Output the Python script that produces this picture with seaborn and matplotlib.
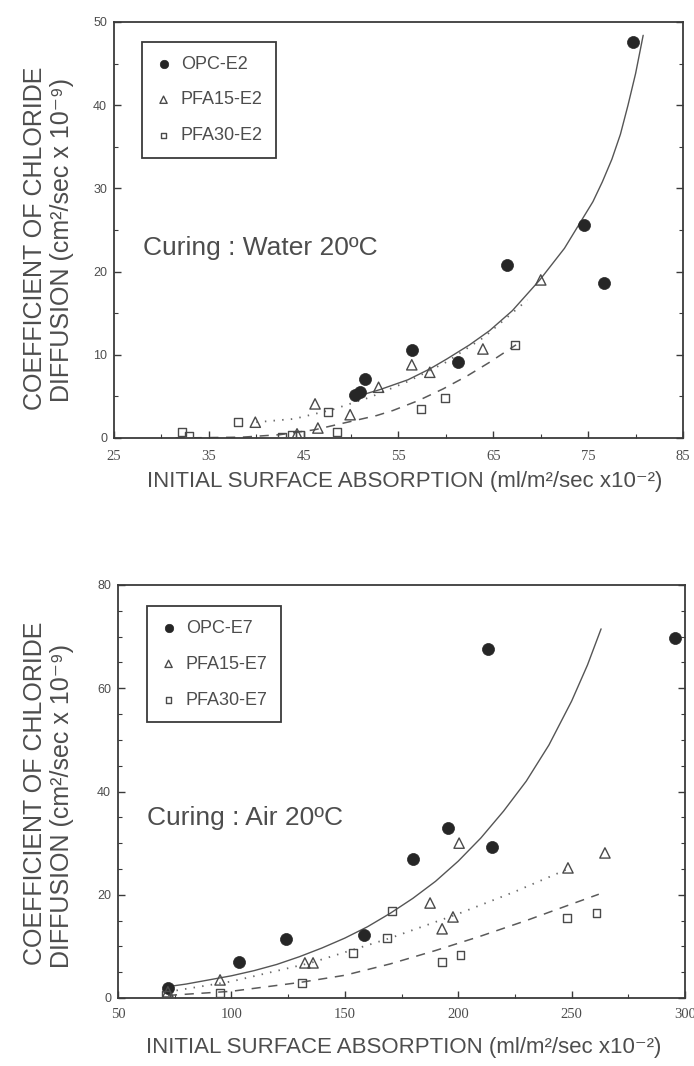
import numpy as np
import pandas as pd
import matplotlib
matplotlib.use("Agg")
import matplotlib.pyplot as plt
import seaborn as sns
from matplotlib.ticker import MultipleLocator

# ---------------- Data: top panel (Curing : Water 20ºC) ----------------
water_opc_x = [79.7, 74.6, 66.4, 76.7, 56.4, 61.3, 51.5, 50.9, 50.4]
water_opc_y = [47.6, 25.6, 20.8, 18.6, 10.6, 9.1, 7.1, 5.5, 5.2]
water_pfa15_x = [70.0, 63.9, 56.4, 58.3, 52.9, 46.2, 39.9, 49.9, 46.5, 44.3]
water_pfa15_y = [19.0, 10.7, 8.8, 7.9, 6.1, 4.1, 1.9, 2.8, 1.2, 0.5]
water_pfa30_x = [67.3, 59.9, 57.4, 47.6, 38.1, 48.5, 32.2, 32.9, 42.7, 43.8, 44.6]
water_pfa30_y = [11.2, 4.8, 3.5, 3.1, 1.9, 0.7, 0.7, 0.2, 0.1, 0.4, 0.4]

# fitted curves
water_opc_fit_x = [50.3, 53.0, 56.0, 58.3, 60.1, 62.5, 64.6, 67.0, 69.9, 72.5, 75.5,
                   76.5, 77.5, 78.4, 79.2, 80.0, 80.8]
water_opc_fit_y = [4.9, 5.8, 7.0, 8.3, 9.5, 11.2, 12.9, 15.3, 19.0, 22.8, 28.4,
                   30.8, 33.5, 36.5, 40.0, 43.8, 48.4]
water_pfa15_fit_x = [40.0, 44.0, 48.0, 52.0, 56.0, 60.0, 64.0, 68.6]
water_pfa15_fit_y = [1.9, 2.3, 3.4, 4.9, 6.8, 9.1, 12.1, 16.6]
water_pfa30_fit_x = [31.5, 38.5, 42.5, 46.2, 48.1, 50.2, 52.7, 54.4, 57.1, 59.7, 62.3, 64.6, 67.4]
water_pfa30_fit_y = [0.0, 0.1, 0.4, 1.0, 1.5, 2.05, 2.7, 3.3, 4.5, 5.9, 7.5, 9.1, 11.2]

# ---------------- Data: bottom panel (Curing : Air 20ºC) ----------------
air_opc_x = [72.0, 103.5, 124.0, 158.5, 180.0, 195.5, 213.0, 215.0, 295.6]
air_opc_y = [1.9, 7.0, 11.5, 12.3, 26.9, 32.9, 67.6, 29.3, 69.7]
air_pfa15_x = [72.0, 95.0, 132.4, 136.0, 187.6, 192.9, 197.7, 200.4, 248.4, 264.7]
air_pfa15_y = [1.2, 3.5, 6.8, 6.8, 18.4, 13.4, 15.7, 30.0, 25.2, 28.1]
air_pfa30_x = [71.0, 95.0, 131.0, 153.6, 168.5, 170.8, 193.0, 201.0, 248.0, 261.0]
air_pfa30_y = [0.6, 1.0, 2.9, 8.7, 11.6, 16.9, 7.0, 8.3, 15.5, 16.5]

air_opc_fit_x = [72, 80, 90, 100, 110, 120, 130, 140, 150, 160, 170, 180, 190,
                 200, 210, 220, 230, 240, 250, 257, 263]
air_opc_fit_y = [2.2, 2.7, 3.5, 4.3, 5.3, 6.5, 8.0, 9.7, 11.6, 13.8, 16.4, 19.3, 22.6,
                 26.5, 31.0, 36.2, 42.0, 49.0, 57.5, 64.5, 71.5]
air_pfa15_fit_x = [72, 100, 135, 170, 200, 225, 250]
air_pfa15_fit_y = [1.2, 3.2, 6.8, 11.6, 16.3, 20.6, 25.3]
air_pfa30_fit_x = [72, 100, 130, 150, 170, 190, 210, 230, 250, 262]
air_pfa30_fit_y = [0.5, 1.3, 3.0, 4.4, 6.6, 9.2, 12.0, 15.0, 18.2, 20.1]

water_labels = ["OPC-E2", "PFA15-E2", "PFA30-E2"]
air_labels = ["OPC-E7", "PFA15-E7", "PFA30-E7"]

xticks_water = [25, 35, 45, 55, 65, 75, 85]
yticks_water = [0, 10, 20, 30, 40, 50]
xticks_air = [50, 100, 150, 200, 250, 300]
yticks_air = [0, 20, 40, 60, 80]

ylabel_line1 = "COEFFICIENT OF CHLORIDE"
ylabel_line2 = "DIFFUSION (cm²/sec x 10⁻⁹)"
xlabel_text = "INITIAL SURFACE ABSORPTION (ml/m²/sec x10⁻²)"
water_note = "Curing : Water 20ºC"
air_note = "Curing : Air 20ºC"

# ---------------- Style ----------------
sns.set_theme(style="ticks")
plt.rcParams["font.family"] = ["Liberation Sans", "DejaVu Sans"]

INK = "#3a3a3a"
TXT = "#4d4d4d"
LINE = "#555555"

W, H = 694, 1066
fig = plt.figure(figsize=(W / 100, H / 100), dpi=100)
fig.patch.set_facecolor("white")


def px_rect(left, top, right, bottom):
    return [left / W, 1 - bottom / H, (right - left) / W, (bottom - top) / H]


ax1 = fig.add_axes(px_rect(114, 22, 683, 438))
ax2 = fig.add_axes(px_rect(118, 585, 685, 998))


def draw(ax, opc, pfa15, pfa30, fits, labels):
    fo, f15, f30 = fits
    sns.lineplot(x=fo[0], y=fo[1], ax=ax, color=LINE, lw=1.0, sort=False,
                 estimator=None, zorder=2)
    sns.lineplot(x=f15[0], y=f15[1], ax=ax, color="#6a6a6a", lw=1.3, sort=False,
                 estimator=None, linestyle=(0, (0.8, 4.0)), zorder=2)
    sns.lineplot(x=f30[0], y=f30[1], ax=ax, color="#5a5a5a", lw=1.1, sort=False,
                 estimator=None, linestyle=(0, (6, 5)), zorder=2)
    sns.scatterplot(x=opc[0], y=opc[1], ax=ax, marker="o", s=75,
                    facecolors="#262626", edgecolor="#262626", linewidth=0.5,
                    label=labels[0], zorder=4)
    sns.scatterplot(x=pfa15[0], y=pfa15[1], ax=ax, marker="^", s=55,
                    facecolors="none", edgecolor="#4a4a4a", linewidth=1.0,
                    label=labels[1], zorder=4)
    sns.scatterplot(x=pfa30[0], y=pfa30[1], ax=ax, marker="s", s=32,
                    facecolors="none", edgecolor="#4a4a4a", linewidth=1.0,
                    label=labels[2], zorder=4)


draw(ax1, (water_opc_x, water_opc_y), (water_pfa15_x, water_pfa15_y),
     (water_pfa30_x, water_pfa30_y),
     ((water_opc_fit_x, water_opc_fit_y), (water_pfa15_fit_x, water_pfa15_fit_y),
      (water_pfa30_fit_x, water_pfa30_fit_y)), water_labels)
draw(ax2, (air_opc_x, air_opc_y), (air_pfa15_x, air_pfa15_y),
     (air_pfa30_x, air_pfa30_y),
     ((air_opc_fit_x, air_opc_fit_y), (air_pfa15_fit_x, air_pfa15_fit_y),
      (air_pfa30_fit_x, air_pfa30_fit_y)), air_labels)


def style_axes(ax, xt, yt, xminor, yminor, xpad):
    ax.set_xlim(xt[0], xt[-1])
    ax.set_ylim(yt[0], yt[-1])
    ax.set_xticks(xt)
    ax.set_yticks(yt)
    ax.xaxis.set_minor_locator(MultipleLocator(xminor))
    ax.yaxis.set_minor_locator(MultipleLocator(yminor))
    ax.set_xlabel("")
    ax.set_ylabel("")
    for sp in ax.spines.values():
        sp.set_visible(True)
        sp.set_color(INK)
        sp.set_linewidth(1.3)
    ax.tick_params(which="both", direction="in", color=INK, right=True, top=False)
    ax.tick_params(which="major", length=5, width=1.0)
    ax.tick_params(which="minor", length=3, width=0.8)
    ax.tick_params(axis="x", which="major", pad=xpad, labelsize=10.5, labelcolor=TXT)
    ax.tick_params(axis="y", which="major", pad=5, labelsize=9, labelcolor=TXT)
    for lab in ax.get_xticklabels():
        lab.set_fontfamily("Liberation Serif")
    ax.set_facecolor("white")


style_axes(ax1, xticks_water, yticks_water, 5, 5, 9)
style_axes(ax2, xticks_air, yticks_air, 25, 5, 7)


def legend(ax, anchor):
    lg = ax.legend(loc="upper left", bbox_to_anchor=anchor, borderaxespad=0,
                   frameon=True, fancybox=False, fontsize=13, labelspacing=1.05,
                   handlelength=0.9, handletextpad=0.5, borderpad=0.75,
                   markerscale=0.7)
    fr = lg.get_frame()
    fr.set_edgecolor(INK)
    fr.set_linewidth(1.3)
    fr.set_facecolor("white")
    fr.set_alpha(1)
    for t in lg.get_texts():
        t.set_color(TXT)


legend(ax1, (0.049, 0.952))
legend(ax2, (0.051, 0.949))

fig.text(143 / W, 1 - 248 / H, water_note, fontsize=19, color=TXT, va="center", ha="left")
fig.text(147 / W, 1 - 818 / H, air_note, fontsize=19, color=TXT, va="center", ha="left")

# axis labels
for (x1, y1, x2, y2) in [(35, 410, 62, 402), (35, 965, 62, 968)]:
    fig.text(x1 / W, 1 - y1 / H, ylabel_line1, rotation=90, rotation_mode="anchor",
             ha="left", va="center", fontsize=18, color=TXT)
    fig.text(x2 / W, 1 - y2 / H, ylabel_line2, rotation=90, rotation_mode="anchor",
             ha="left", va="center", fontsize=18, color=TXT)

fig.text(405 / W, 1 - 481 / H, xlabel_text, ha="center", va="center", fontsize=16, color=TXT)
fig.text(404 / W, 1 - 1047 / H, xlabel_text, ha="center", va="center", fontsize=16, color=TXT)

fig.savefig("out.png", dpi=100, facecolor="white")
